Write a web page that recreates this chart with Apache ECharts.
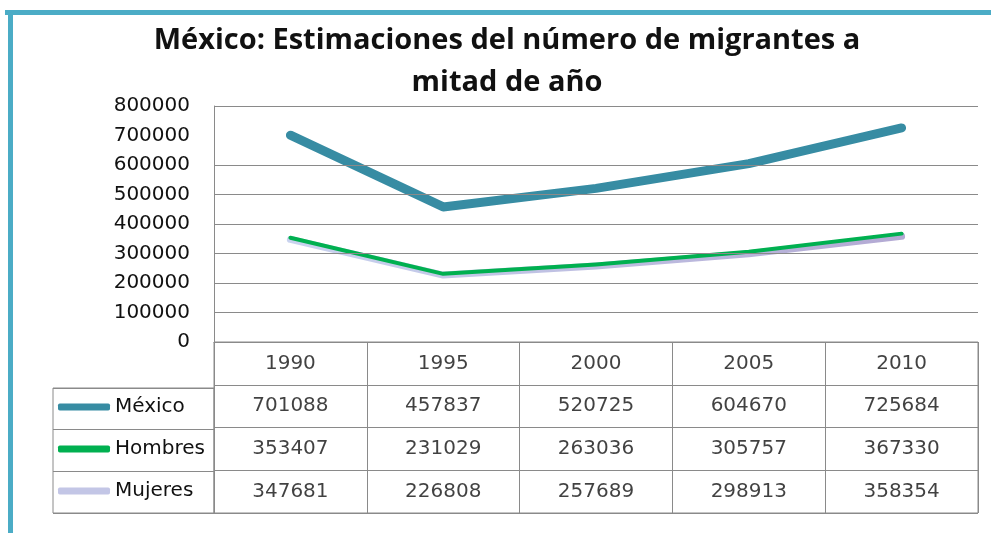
<!DOCTYPE html>
<html>
<head>
<meta charset="utf-8">
<script src="https://cdn.jsdelivr.net/npm/echarts@6/dist/echarts.min.js"></script>
<style>html,body{margin:0;padding:0;background:#fff;}#c{width:991px;height:533px;}</style>
</head>
<body>
<div id="c"></div>
<script>
const years = ['1990', '1995', '2000', '2005', '2010'];
const mexico = [701088, 457837, 520725, 604670, 725684];
const hombres = [353407, 231029, 263036, 305757, 367330];
const mujeres = [347681, 226808, 257689, 298913, 358354];
const seriesNames = ['México', 'Hombres', 'Mujeres'];
// horizontal gridlines drawn in the reference (none at 700000)
const yGridValues = [100000, 200000, 300000, 400000, 500000, 600000, 800000];

const FONT = 'DejaVu Sans';
const TXT = '#111';
const LINE = '#8a8a8a';

const chart = echarts.init(document.getElementById('c'), null, {renderer: 'canvas'});

const rows = [years, mexico, hombres, mujeres];
const cells = [];
rows.forEach((r, ri) => r.forEach((v, ci) => cells.push([ci, ri, String(v)])));

const mujGrad = new echarts.graphic.LinearGradient(0, 0, 1, 0, [
  {offset: 0, color: '#C9D3EF'}, {offset: 1, color: '#B3A9D3'}
]);

chart.setOption({
  backgroundColor: '#fff',
  animation: false,
  title: {
    text: 'México: Estimaciones del número de migrantes a\nmitad de año',
    left: 507, top: 20, padding: 0,
    textAlign: 'center',
    textStyle: {fontFamily: 'Open Sans', fontWeight: 'bold', fontSize: 29, lineHeight: 42, color: '#111'}
  },
  legend: {
    orient: 'vertical', left: 58, top: 396, padding: 0,
    itemWidth: 52, itemHeight: 7, itemGap: 20, icon: 'roundRect',
    selectedMode: false,
    textStyle: {fontFamily: FONT, fontSize: 20, lineHeight: 22, color: TXT},
    data: [
      {name: 'México', itemStyle: {color: '#378CA3'}},
      {name: 'Hombres', itemStyle: {color: '#00B050'}},
      {name: 'Mujeres', itemStyle: {color: '#C3C6E6'}}
    ]
  },
  graphic: [
    {type: 'rect', shape: {x: 5, y: 10, width: 986, height: 5}, style: {fill: '#4BACC6'}},
    {type: 'rect', shape: {x: 8, y: 10, width: 5, height: 523}, style: {fill: '#4BACC6'}}
  ],
  grid: [
    {left: 214, top: 106, width: 764, height: 236, containLabel: false},
    {left: 214, top: 342, width: 764, height: 171, show: true, borderColor: LINE, borderWidth: 1},
    {left: 53, top: 388, width: 161, height: 125, show: true, borderColor: LINE, borderWidth: 1}
  ],
  xAxis: [
    {gridIndex: 0, type: 'category', data: years, boundaryGap: true,
      axisLine: {show: true, lineStyle: {color: LINE, width: 1}}, axisTick: {show: false},
      axisLabel: {show: false}, splitLine: {show: false}},
    {gridIndex: 1, type: 'category', data: years, boundaryGap: true,
      axisLine: {show: false}, axisTick: {show: false}, axisLabel: {show: false},
      splitLine: {show: true, interval: 0, lineStyle: {color: LINE, width: 1}}},
    {gridIndex: 2, type: 'value', show: false}
  ],
  yAxis: [
    {gridIndex: 0, type: 'value', min: 0, max: 800000, interval: 100000,
      axisLine: {show: true, lineStyle: {color: LINE, width: 1}},
      axisTick: {show: false},
      axisLabel: {fontFamily: FONT, fontSize: 20, color: TXT, margin: 24, formatter: v => String(v)},
      splitLine: {show: false}},
    {gridIndex: 1, type: 'category', data: ['', 'México', 'Hombres', 'Mujeres'], inverse: true,
      axisLine: {show: false}, axisTick: {show: false}, axisLabel: {show: false},
      splitLine: {show: true, interval: 0, lineStyle: {color: LINE, width: 1}}},
    {gridIndex: 2, type: 'category', data: seriesNames, inverse: true,
      axisLine: {show: false}, axisTick: {show: false}, axisLabel: {show: false},
      splitLine: {show: true, interval: 0, lineStyle: {color: LINE, width: 1}}}
  ],
  series: [
    {name: 'grid', type: 'line', xAxisIndex: 0, yAxisIndex: 0, data: years.map(() => '-'), z: 0,
      symbol: 'none', silent: true, lineStyle: {width: 0},
      markLine: {silent: true, symbol: 'none', animation: false, label: {show: false},
        lineStyle: {color: LINE, width: 1, type: 'solid'},
        emphasis: {disabled: true},
        data: yGridValues.map(v => ({yAxis: v}))}},
    {name: 'Mujeres', type: 'line', xAxisIndex: 0, yAxisIndex: 0, data: mujeres, z: 1,
      symbol: 'none', lineStyle: {color: mujGrad, width: 7, cap: 'round', join: 'round'}, itemStyle: {color: '#C3C6E6'}},
    {name: 'Hombres', type: 'line', xAxisIndex: 0, yAxisIndex: 0, data: hombres, z: 2,
      symbol: 'none', lineStyle: {color: '#00B050', width: 4, cap: 'round', join: 'round'}, itemStyle: {color: '#00B050'}},
    {name: 'México', type: 'line', xAxisIndex: 0, yAxisIndex: 0, data: mexico, z: 3,
      symbol: 'none', lineStyle: {color: '#378CA3', width: 9, cap: 'round', join: 'round'}, itemStyle: {color: '#378CA3'}},
    {name: 'tabla', type: 'scatter', xAxisIndex: 1, yAxisIndex: 1, data: cells,
      symbolSize: 1, itemStyle: {color: 'rgba(0,0,0,0)'}, silent: true,
      label: {show: true, position: 'inside', formatter: p => p.value[2],
        fontFamily: FONT, fontSize: 20, color: TXT}}
  ]
});
</script>
</body>
</html>
